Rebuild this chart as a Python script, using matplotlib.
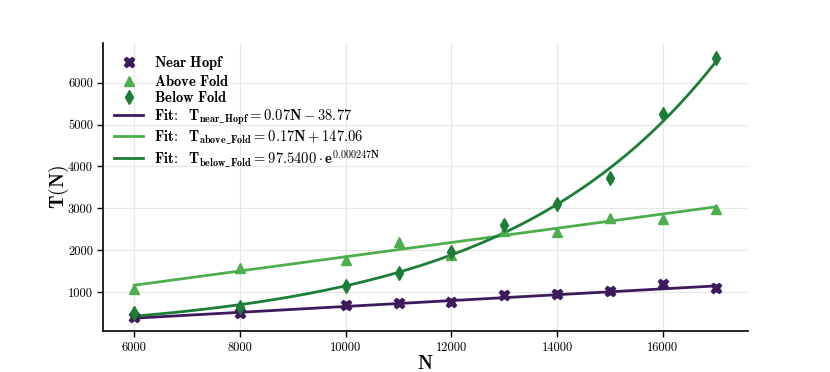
import numpy as np
import matplotlib
matplotlib.use("Agg")
import matplotlib.pyplot as plt

plt.rcParams['font.family'] = 'serif'
plt.rcParams['font.serif'] = ['cmr10']
plt.rcParams['mathtext.fontset'] = 'cm'
plt.rcParams['axes.formatter.use_mathtext'] = True

# Data
N = [6000, 8000, 10000, 11000, 12000, 13000, 14000, 15000, 16000, 17000]
near_hopf = [400, 505, 705, 745, 775, 945, 968, 1040, 1200, 1112]
above_fold = [1075, 1582, 1766, 2204, 1890, 2460, 2443, 2778, 2746, 2993]
below_fold = [505, 650, 1143, 1462, 1964, 2602, 3105, 3735, 5258, 6590]

# Fit parameters (from legend)
hopf_fit = (0.07, -38.77)
above_fit = (0.17, 147.06)
below_fit = (97.54, 0.000247)

c_hopf = '#3d1a5b'
c_above = '#4cae4c'
c_below = '#1b7d36'

fig = plt.figure(figsize=(8.3, 3.72), dpi=100)
ax = fig.add_axes([0.1245, 0.109, 0.7763, 0.7754])

Nf = np.linspace(min(N), max(N), 300)
h1, = ax.plot(N, near_hopf, linestyle='', marker='X', ms=7.5, color=c_hopf, label=r'$\mathbf{Near\ Hopf}$', zorder=3)
h2, = ax.plot(N, above_fold, linestyle='', marker='^', ms=7.5, color=c_above, label=r'$\mathbf{Above\ Fold}$', zorder=3)
h3, = ax.plot(N, below_fold, linestyle='', marker='d', ms=7.5, color=c_below, label=r'$\mathbf{Below\ Fold}$', zorder=3)
l1, = ax.plot(Nf, hopf_fit[0] * Nf + hopf_fit[1], color=c_hopf, lw=2,
              label=r'$\mathbf{Fit\!:\ \ T_{near\_Hopf} = 0.07N - 38.77}$')
l2, = ax.plot(Nf, above_fit[0] * Nf + above_fit[1], color=c_above, lw=2,
              label=r'$\mathbf{Fit\!:\ \ T_{above\_Fold} = 0.17N + 147.06}$')
l3, = ax.plot(Nf, below_fit[0] * np.exp(below_fit[1] * Nf), color=c_below, lw=2,
              label=r'$\mathbf{Fit\!:\ \ T_{below\_Fold} = 97.5400 \cdot e^{0.000247N}}$')

ax.legend(handles=[h1, h2, h3, l1, l2, l3], loc='upper left', frameon=False,
          fontsize=10.5, handlelength=2.0, labelspacing=0.12, borderaxespad=0.35,
          handletextpad=0.7)

ax.set_xlim(5419, 17602)
ax.set_ylim(65, 6945)
ax.set_xticks([6000, 8000, 10000, 12000, 14000, 16000])
ax.set_xticklabels(['6000', '8000', '10000', '12000', '14000', '16000'])
ax.set_yticks([1000, 2000, 3000, 4000, 5000, 6000])
ax.set_yticklabels(['1000', '2000', '3000', '4000', '5000', '6000'])
ax.tick_params(labelsize=9, direction='out', length=4, width=1)
ax.set_xlabel(r'$\mathbf{N}$', fontsize=14, labelpad=1)
ax.set_ylabel(r'$\mathbf{T(N)}$', fontsize=14, labelpad=-2)
ax.grid(True, color='#e6e6e6', lw=0.8)
ax.set_axisbelow(True)
for s in ['top', 'right']:
    ax.spines[s].set_visible(False)
for s in ['left', 'bottom']:
    ax.spines[s].set_linewidth(1.2)

fig.savefig('out.png', dpi=100)
